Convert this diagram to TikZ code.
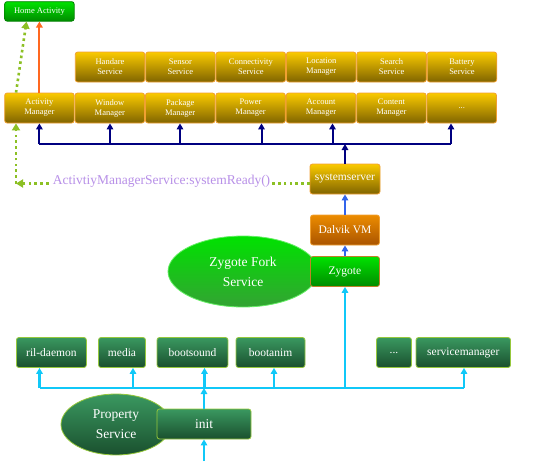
\documentclass[tikz,border=0pt]{standalone}
\usepackage{fontspec}
\setmainfont{Liberation Serif}
\usetikzlibrary{arrows.meta,shapes.geometric}
\definecolor{goldtop}{RGB}{250,202,0}
\definecolor{goldbot}{RGB}{128,100,0}
\definecolor{goldline}{RGB}{240,160,50}
\definecolor{grtop}{RGB}{0,226,0}
\definecolor{grbot}{RGB}{0,140,0}
\definecolor{dktop}{RGB}{58,152,96}
\definecolor{dkbot}{RGB}{26,80,46}
\definecolor{dkline}{RGB}{150,200,60}
\definecolor{dvtop}{RGB}{236,140,0}
\definecolor{dvbot}{RGB}{170,84,0}
\definecolor{navyln}{RGB}{0,0,128}
\definecolor{blueln}{RGB}{50,100,235}
\definecolor{cyanln}{RGB}{16,200,248}
\definecolor{orangeln}{RGB}{255,104,32}
\definecolor{dotgreen}{RGB}{140,192,36}
\definecolor{lavender}{RGB}{184,144,232}

\begin{document}
\begin{tikzpicture}[x=1pt,y=-1pt,
  box/.style={rectangle,rounded corners=2.5pt,inner sep=0pt,align=center,text=white,line width=0.8pt},
  gold/.style={box,top color=goldtop,bottom color=goldbot,draw=goldline,minimum width=69.5pt,minimum height=30pt,font=\fontsize{8.5}{10}\selectfont},
  grbox/.style={box,top color=grtop,bottom color=grbot,font=\fontsize{11.5}{13}\selectfont},
  dkbox/.style={box,top color=dktop,bottom color=dkbot,draw=dkline,minimum height=30pt,font=\fontsize{11.5}{13}\selectfont},
  blob/.style={ellipse,inner sep=0pt,align=center,text=white,line width=0.8pt,font=\fontsize{13.5}{20}\selectfont},
  navyline/.style={navyln,line width=2pt},
  cyline/.style={cyanln,line width=2.5pt},
  arr/.style={-{Triangle[length=6pt,width=6.5pt]}},
  dotline/.style={dotgreen,line width=2.6pt,dash pattern=on 2.6pt off 3.2pt,-{Triangle[length=7pt,width=8pt]}}]
  \useasboundingbox (0,0) rectangle (547,466);

  % ellipses first, boxes sit on top of them
  \node[blob,top color=grtop,bottom color=grbot!80,draw=grtop!60,minimum width=150pt,minimum height=71pt] (fork) at (243,271.5) {Zygote Fork\\Service};
  \node[blob,top color=dktop,bottom color=dkbot,draw=dkline,minimum width=110pt,minimum height=61pt] (prop) at (116,424.5) {Property\\Service};

  % framework services
  \node[grbox,draw=green!50!black,minimum width=69.5pt,minimum height=19.5pt,font=\fontsize{8.5}{10}\selectfont] (home) at (39.4,11.4) {Home Activity};
  \foreach \i/\n/\t in {0/hs/{Handare\\Service},1/ss/{Sensor\\Service},2/cs/{Connectivity\\Service},
      3/lm/{Location\\Manager},4/srs/{Search\\Service},5/bs/{Battery\\Service}}
    \node[gold] (\n) at ({110+70.4*\i},67) {\t};
  \foreach \i/\n/\t in {0/am/{Activity\\Manager},1/wm/{Window\\Manager},2/pm/{Package\\Manager},
      3/pwm/{Power\\Manager},4/acm/{Account\\Manager},5/cm/{Content\\Manager},6/etc/{...}}
    \node[gold] (\n) at ({39.4+70.4*\i},108) {\t};

  % zygote stack
  \node[gold,minimum width=70pt,font=\fontsize{11.5}{13}\selectfont] (sys) at (345,179) {systemserver};
  \node[box,top color=dvtop,bottom color=dvbot,draw=goldline,minimum width=69pt,minimum height=30pt,font=\fontsize{11.5}{13}\selectfont] (dvm) at (345,230) {Dalvik VM};
  \node[grbox,draw=goldline!80!black,minimum width=69pt,minimum height=30pt] (zyg) at (345,271.5) {Zygote};

  % native daemons
  \node[dkbox,minimum width=70pt] (ril) at (51.4,352.5) {ril-daemon};
  \node[dkbox,minimum width=47pt] (media) at (122,352.5) {media};
  \node[dkbox,minimum width=71pt] (bsnd) at (192.5,352.5) {bootsound};
  \node[dkbox,minimum width=69pt] (banim) at (270.5,352.5) {bootanim};
  \node[dkbox,minimum width=35pt] (more) at (394,352.5) {...};
  \node[dkbox,minimum width=94.5pt] (smgr) at (463.3,352.5) {servicemanager};
  \node[dkbox,minimum width=94pt,font=\fontsize{13.5}{15}\selectfont] (init) at (204,424) {init};

  % init -> daemons
  \coordinate (start) at (204,461);
  \foreach \n/\x in {ril/39.5,media/133,bsnd/204.5,banim/274,smgr/464}{
    \coordinate (c\n) at (\x,388);
    \draw[cyline,arr] (c\n) -- (c\n |- \n.south);
  }
  \draw[cyline] (cril) -- (csmgr);
  \draw[cyline,arr] (zyg.south |- cril) -- (zyg.south);
  \draw[cyline,arr] (init.north) -- (init.north |- cril);
  \draw[cyline,arr] (start) -- (init.south);

  % zygote -> systemserver -> services
  \draw[blueln,line width=2pt,arr] (zyg.north) -- (dvm.south);
  \draw[blueln,line width=2pt,arr] (dvm.north) -- (sys.south);
  \foreach \n/\x in {am/39.4,wm/110,pm/180,pwm/261.5,acm/332.5,etc/451}{
    \coordinate (n\n) at (\x,144);
    \draw[navyline,arr] (n\n) -- (n\n |- \n.south);
  }
  \draw[navyline] (nam) -- (netc);
  \draw[navyline,arr] (sys.north) -- (sys.north |- nam);
  \draw[orangeln,line width=2pt,arr] (am.north) -- (home.south);

  % systemReady callback
  \coordinate (corner) at (16,183.5);
  \draw[dotline] (sys.west |- corner) -- (corner);
  \node[fill=white,inner sep=1pt,anchor=base,text=lavender,font=\fontsize{13.5}{15}\selectfont] (ready) at (161.5,184) {ActivtiyManagerService:systemReady()};
  \draw[dotline] (corner) -- (corner |- am.south);
  \draw[dotline] ([xshift=-23.4pt]am.north) -- ([xshift=-12.9pt]home.south);
\end{tikzpicture}
\end{document}
